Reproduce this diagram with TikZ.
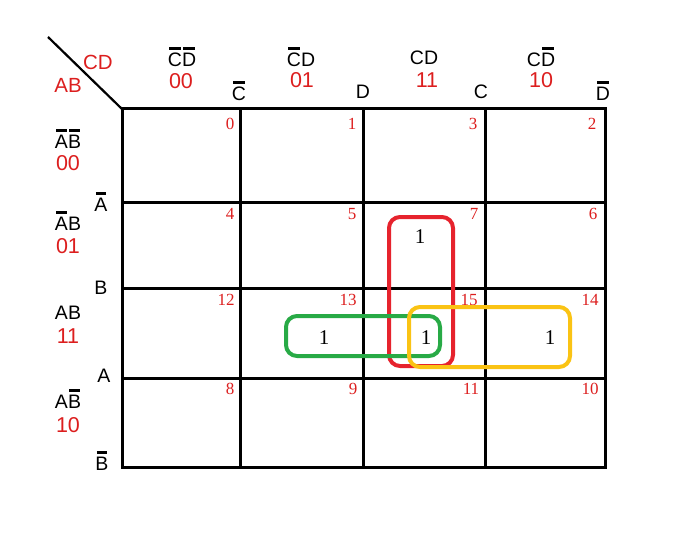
\documentclass[tikz,border=0pt]{standalone}
\usepackage{fontspec}
\setmainfont{Liberation Sans}
\newfontfamily\numfont{Liberation Serif}
\newcommand\ob[1]{\sbox0{#1}\rlap{\hspace*{0.1\wd0}\rule[\dimexpr\ht0+0.16em\relax]{0.8\wd0}{0.13em}}\usebox0}
\definecolor{kred}{RGB}{220,30,30}
\definecolor{lred}{RGB}{230,35,45}
\definecolor{lgreen}{RGB}{40,170,70}
\definecolor{lyellow}{RGB}{250,195,20}
\tikzset{
  var/.style={inner sep=0pt, font=\fontsize{19.5}{19.5}\selectfont, text=black},
  code/.style={inner sep=0pt, font=\fontsize{21.5}{21.5}\selectfont, text=kred},
  idx/.style={inner sep=0pt, font=\numfont\fontsize{17}{17}\selectfont, text=kred},
  one/.style={inner sep=0pt, font=\numfont\fontsize{21}{21}\selectfont},
  grid/.style={line width=3pt},
  loop/.style={line width=4pt, rounded corners=11pt}
}
\begin{document}
\begin{tikzpicture}[x=1pt,y=-1pt]
\useasboundingbox (0,0) rectangle (678,535);
% grid
\draw[grid] (122,109) rectangle (605,467);
\foreach \x in {240,363,485} \draw[grid] (\x,109) -- (\x,467);
\foreach \y in {202,288,378} \draw[grid] (122,\y) -- (605,\y);
\coordinate (d0) at (48,37);
\coordinate (d1) at (122,109);
\draw[line width=2.2pt] (d0) -- (d1);
% corner labels
\node[code, font=\fontsize{20.5}{20.5}\selectfont] (cd) at (98,62) {CD};
\node[code, font=\fontsize{20.5}{20.5}\selectfont] (ab) at (68,85) {AB};
% column headers
\node[var] (h0) at (182,57) {\ob{C}\ob{D}};
\node[code] (c0) at (181,81) {00};
\node[var] (h1) at (301,57) {\ob{C}D};
\node[code] (c1) at (302,80) {01};
\node[var] (h2) at (424,58) {CD};
\node[code] (c2) at (427,80) {11};
\node[var] (h3) at (541,57) {C\ob{D}};
\node[code] (c3) at (541,80) {10};
\node[var] (t0) at (239,91) {\ob{C}};
\node[var] (t1) at (363,92) {D};
\node[var] (t2) at (481,92) {C};
\node[var] (t3) at (603,91) {\ob{D}};
% row headers
\node[var] (r0) at (68,139) {\ob{A}\ob{B}};
\node[code] (k0) at (68,163) {00};
\node[var] (r1) at (68,221) {\ob{A}B};
\node[code] (k1) at (68,246) {01};
\node[var] (r2) at (68,313) {AB};
\node[code] (k2) at (68,336) {11};
\node[var] (r3) at (68,399) {A\ob{B}};
\node[code] (k3) at (68,425) {10};
\node[var] (s0) at (101,202) {\ob{A}};
\node[var] (s1) at (101,288) {B};
\node[var] (s2) at (104,376) {A};
\node[var] (s3) at (102,461) {\ob{B}};
% cell indices
\node[idx] (m0) at (230,124) {0};
\node[idx] (m1) at (352,124) {1};
\node[idx] (m3) at (473,124) {3};
\node[idx] (m2) at (592,124) {2};
\node[idx] (m4) at (230,214) {4};
\node[idx] (m5) at (352,214) {5};
\node[idx] (m7) at (474,214) {7};
\node[idx] (m6) at (593,214) {6};
\node[idx] (m12) at (226,300) {12};
\node[idx] (m13) at (348,300) {13};
\node[idx] (m15) at (469,300) {15};
\node[idx] (m14) at (590,300) {14};
\node[idx] (m8) at (230,389) {8};
\node[idx] (m9) at (353,389) {9};
\node[idx] (m11) at (471,389) {11};
\node[idx] (m10) at (590,389) {10};
% ones
\node[one] (o7) at (420,237) {1};
\node[one] (o13) at (324,338) {1};
\node[one] (o15) at (426,338) {1};
\node[one] (o14) at (550,338) {1};
% loops
\draw[loop, lred] (389,217) rectangle (453,366);
\draw[loop, lgreen] (286,316) rectangle (440,356);
\draw[loop, lyellow] (409,307) rectangle (570,367);
\end{tikzpicture}
\end{document}
